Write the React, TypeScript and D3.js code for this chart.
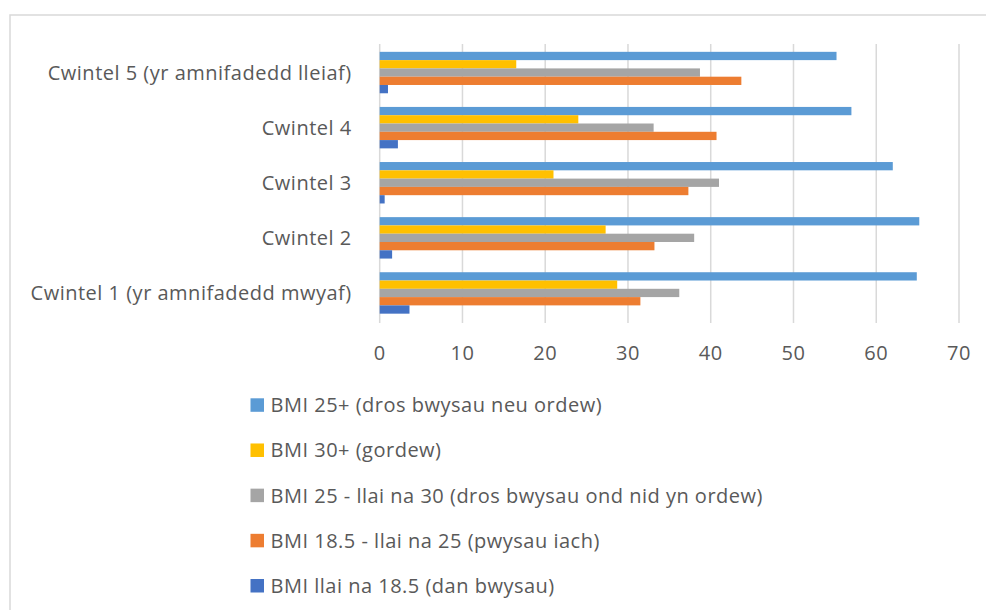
import React from "react";
import * as d3 from "d3";

const categories = [
  "Cwintel 1 (yr amnifadedd mwyaf)",
  "Cwintel 2",
  "Cwintel 3",
  "Cwintel 4",
  "Cwintel 5 (yr amnifadedd lleiaf)",
];
const seriesNames = [
  "BMI 25+ (dros bwysau neu ordew)",
  "BMI 30+ (gordew)",
  "BMI 25 - llai na 30 (dros bwysau ond nid yn ordew)",
  "BMI 18.5 - llai na 25 (pwysau iach)",
  "BMI llai na 18.5 (dan bwysau)",
];
const seriesColors = ["#5B9BD5", "#FFC000", "#A5A5A5", "#ED7D31", "#4472C4"];
const bmi25plus = [64.9, 65.2, 62.0, 57.0, 55.2];
const bmi30plus = [28.7, 27.3, 21.0, 24.0, 16.5];
const bmi25to30 = [36.2, 38.0, 41.0, 33.1, 38.7];
const bmi185to25 = [31.5, 33.2, 37.3, 40.7, 43.7];
const bmiUnder185 = [3.6, 1.5, 0.6, 2.2, 1.0];
const seriesValues = [bmi25plus, bmi30plus, bmi25to30, bmi185to25, bmiUnder185];
const xTicks = [0, 10, 20, 30, 40, 50, 60, 70];

const W = 986;
const H = 610;
const FONT = "'Open Sans', sans-serif";
const TEXT = "#595959";
const FS = 20;
const LS = 0.5;

export default function App() {
  const plot = { left: 379.7, right: 959, top: 45, bottom: 320.5 };
  const x = d3.scaleLinear().domain([0, 70]).range([plot.left, plot.right]);
  // Cwintel 5 at top, Cwintel 1 at bottom
  const y = d3
    .scaleBand<string>()
    .domain([...categories].reverse())
    .range([plot.top, plot.bottom])
    .paddingInner(0.248)
    .paddingOuter(0.124);
  const inner = d3
    .scaleBand<number>()
    .domain(seriesNames.map((_, i) => i))
    .range([0, y.bandwidth()]);

  const legendY = d3
    .scalePoint<string>()
    .domain(seriesNames)
    .range([405, 585.7]);

  return (
    <svg
      width={W}
      height={H}
      style={{ position: "absolute", left: 0, top: 0, background: "#fff" }}
      fontFamily={FONT}
    >
      <rect x={0} y={0} width={W} height={H} fill="#fff" />
      <rect
        x={10}
        y={15}
        width={1100}
        height={800}
        fill="#fff"
        stroke="#D9D9D9"
        strokeWidth={1.5}
      />
      {/* gridlines */}
      {xTicks.map((t) => (
        <line
          key={t}
          x1={x(t)}
          x2={x(t)}
          y1={44}
          y2={323}
          stroke="#D9D9D9"
          strokeWidth={1.5}
        />
      ))}
      {/* bars */}
      {categories.map((c, ci) => (
        <g key={c} transform={`translate(0,${y(c)})`}>
          {seriesValues.map((vals, si) => (
            <rect
              key={si}
              x={x(0)}
              y={inner(si)}
              width={x(vals[ci]) - x(0)}
              height={inner.bandwidth()}
              fill={seriesColors[si]}
            />
          ))}
        </g>
      ))}
      {/* category labels */}
      {categories.map((c) => (
        <text
          key={c}
          x={plot.left - 28}
          y={(y(c) as number) + y.bandwidth() / 2 + 7.5}
          textAnchor="end"
          fontSize={FS}
          letterSpacing={LS}
          fill={TEXT}
        >
          {c}
        </text>
      ))}
      {/* x tick labels */}
      {xTicks.map((t) => (
        <text
          key={t}
          x={x(t)}
          y={359.5}
          textAnchor="middle"
          fontSize={FS}
          letterSpacing={LS}
          fill={TEXT}
        >
          {t}
        </text>
      ))}
      {/* legend */}
      {seriesNames.map((s, i) => (
        <g key={s} transform={`translate(250.5,${legendY(s)})`}>
          <rect x={0} y={-6.7} width={13.5} height={13.5} fill={seriesColors[i]} />
          <text x={20} y={7.2} fontSize={FS} letterSpacing={LS} fill={TEXT}>
            {s}
          </text>
        </g>
      ))}
    </svg>
  );
}
